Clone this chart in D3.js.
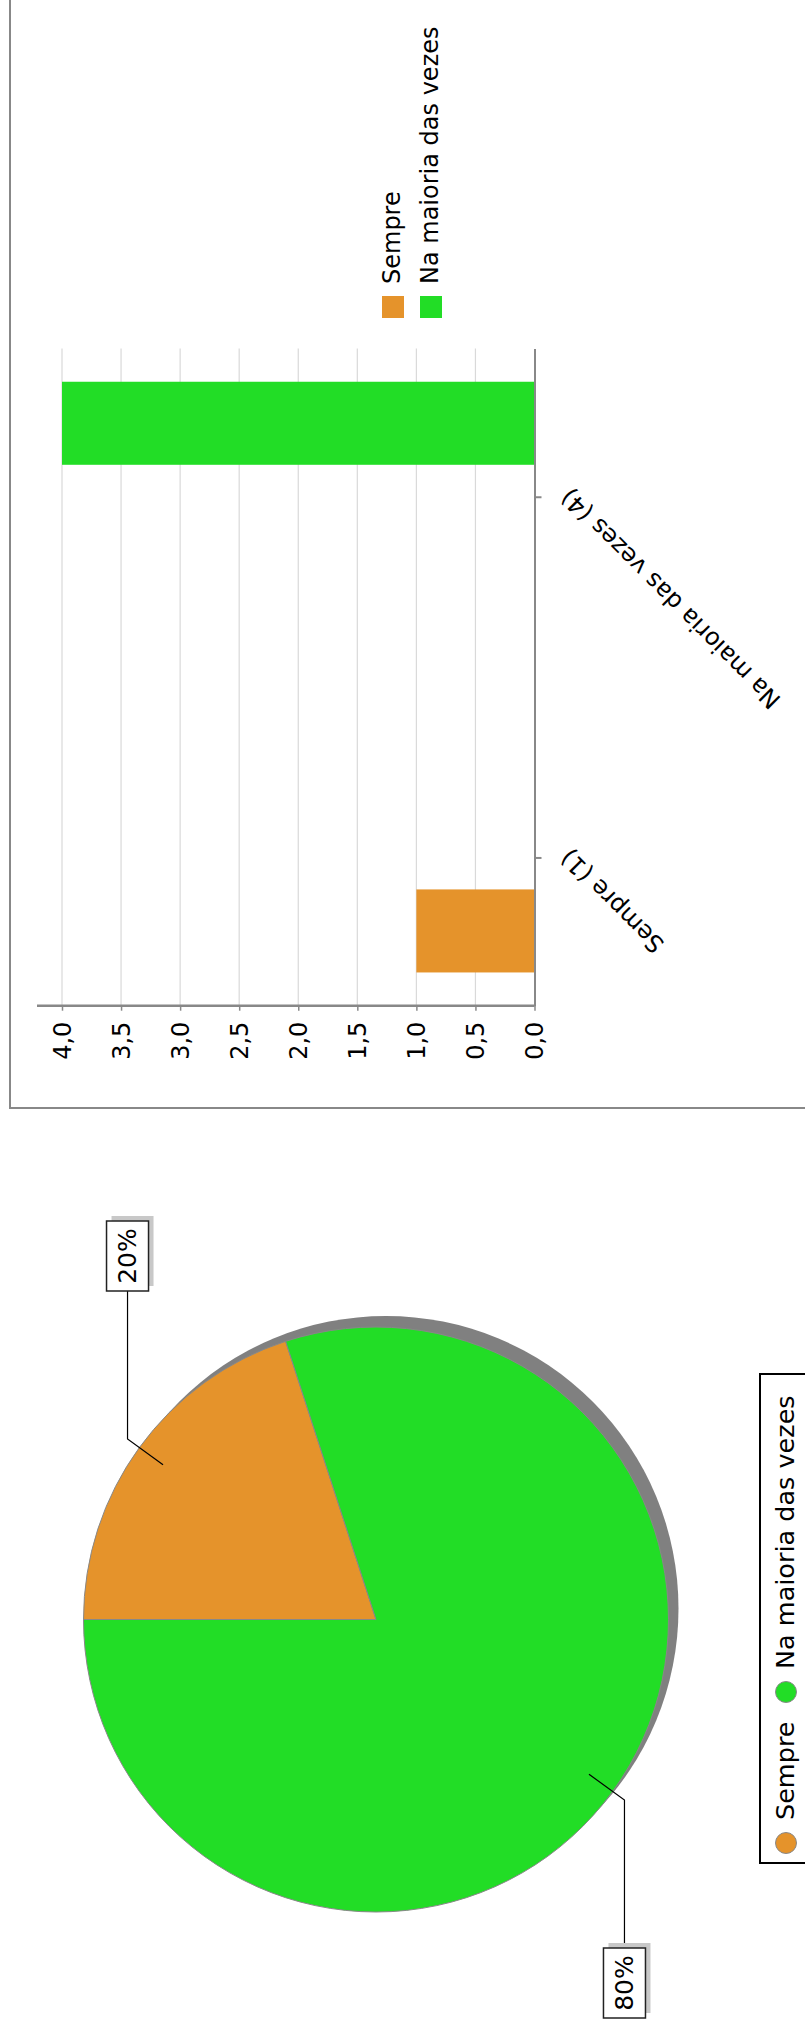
<!DOCTYPE html>
<html>
<head>
<meta charset="utf-8">
<title></title>
<script src="https://cdn.jsdelivr.net/npm/d3@7"></script>
<style>
body{margin:0;background:#fff;}
text{font-family:"DejaVu Sans",sans-serif;fill:#000;}
</style>
</head>
<body>
<script>
// dados
var categorias = ["Sempre (1)", "Na maioria das vezes (4)"];
var series = ["Sempre", "Na maioria das vezes"];
var valoresSempre = [1, 0];
var valoresMaioria = [0, 4];
var ticksValor = [0, 0.5, 1, 1.5, 2, 2.5, 3, 3.5, 4];
var pizzaRotulos = ["Sempre", "Na maioria das vezes"];
var pizzaValores = [1, 4];
var cores = ["#e5932b", "#22dd26"];

var width = 805, height = 2027;
var svg = d3.select("body").append("svg")
    .attr("width", width)
    .attr("height", height);

var locale = d3.formatLocale({decimal: ",", thousands: ".", grouping: [3], currency: ["R$", ""]});
var fmt = locale.format(".1f");
var pct = d3.format(".0%");

// ---------- grafico de barras (girado -90) ----------
svg.append("rect")
    .attr("x", 10).attr("y", -10)
    .attr("width", 820).attr("height", 1118)
    .attr("fill", "none").attr("stroke", "#888").attr("stroke-width", 2);

var top0 = 348.5, base0 = 1005.7;
var xScale = d3.scaleLinear().domain([0, 4]).range([534.5, 62]);
var yScale = d3.scalePoint().domain(categorias).range([base0, top0]).padding(0.411);
var sScale = d3.scaleBand().domain(series).range([115, -115]).paddingInner(0.435);

// grade
svg.append("g").selectAll("line")
    .data(ticksValor.slice(1))
    .enter().append("line")
    .attr("x1", function(d){ return xScale(d); })
    .attr("x2", function(d){ return xScale(d); })
    .attr("y1", top0).attr("y2", base0)
    .attr("stroke", "#d9d9d9").attr("stroke-width", 1.2);

// barras
var barras = [];
series.forEach(function(s, i){
    var vals = i == 0 ? valoresSempre : valoresMaioria;
    categorias.forEach(function(c, j){
        barras.push({serie: s, cat: c, v: vals[j], cor: cores[i]});
    });
});
svg.append("g").selectAll("rect")
    .data(barras.filter(function(d){ return d.v > 0; }))
    .enter().append("rect")
    .attr("x", function(d){ return xScale(d.v); })
    .attr("width", function(d){ return xScale(0) - xScale(d.v); })
    .attr("y", function(d){ return yScale(d.cat) + sScale(d.serie); })
    .attr("height", sScale.bandwidth())
    .attr("fill", function(d){ return d.cor; });

// eixo de valores
svg.append("line")
    .attr("x1", 37).attr("x2", xScale(0))
    .attr("y1", base0).attr("y2", base0)
    .attr("stroke", "#888").attr("stroke-width", 2.5);

var eixoX = svg.append("g")
    .attr("transform", "translate(0," + base0 + ")")
    .call(d3.axisBottom(xScale).tickValues(ticksValor).tickSize(5).tickFormat(fmt));
eixoX.select(".domain").remove();
eixoX.selectAll("line").attr("stroke", "#888").attr("stroke-width", 1.5);
eixoX.selectAll("text")
    .attr("x", -16).attr("y", 0).attr("dy", "0.35em")
    .attr("transform", "rotate(-90)")
    .style("text-anchor", "end")
    .style("font-size", "24px")
    .style("font-family", "DejaVu Sans");

// eixo de categorias
var eixoY = svg.append("g")
    .attr("transform", "translate(" + xScale(0) + ",0)")
    .call(d3.axisRight(yScale).tickSize(7).tickSizeOuter(0));
eixoY.select(".domain").attr("stroke", "#888").attr("stroke-width", 2);
eixoY.selectAll("line").attr("stroke", "#888").attr("stroke-width", 2);
eixoY.selectAll("text")
    .attr("x", 0).attr("y", 0).attr("dy", 0)
    .attr("transform", "translate(36,-10) rotate(-135)")
    .style("text-anchor", "end")
    .style("font-size", "24px")
    .style("font-family", "DejaVu Sans");

// legenda das barras
var leg = svg.append("g").selectAll("g")
    .data(series)
    .enter().append("g")
    .attr("transform", function(d, i){ return "translate(" + (382 + i * 38) + ",0)"; });
leg.append("rect")
    .attr("x", 0).attr("y", 296)
    .attr("width", 22).attr("height", 22)
    .attr("fill", function(d, i){ return cores[i]; });
leg.append("text")
    .attr("transform", "translate(17.5,284) rotate(-90)")
    .style("font-size", "24px")
    .text(function(d){ return d; });

// ---------- pizza ----------
var cx = 376, cy = 1619.5, R = 292.5;
var pie = d3.pie().sort(null).startAngle(-Math.PI / 2).endAngle(1.5 * Math.PI);
var arcs = pie(pizzaValores);
var total = d3.sum(pizzaValores);
var arc = d3.arc().innerRadius(0).outerRadius(R);

var gp = svg.append("g").attr("transform", "translate(" + cx + "," + cy + ")");
gp.append("circle")
    .attr("cx", 10).attr("cy", -11).attr("r", R)
    .attr("fill", "#808080");
gp.selectAll("path.fatia")
    .data(arcs)
    .enter().append("path")
    .attr("class", "fatia")
    .attr("d", arc)
    .attr("fill", function(d, i){ return cores[i]; })
    .attr("stroke", "#888").attr("stroke-width", 1);

// rotulos com linha
arcs.forEach(function(d){
    var a = (d.startAngle + d.endAngle) / 2;
    var p1 = [0.9 * R * Math.sin(a), -0.9 * R * Math.cos(a)];
    var p2 = [1.05 * R * Math.sin(a), -1.05 * R * Math.cos(a)];
    var up = Math.cos(a) > 0;
    var yb = up ? -(R + 36) : (R + 36);
    gp.append("polyline")
        .attr("points", [p1, p2, [p2[0], yb]].map(function(p){ return p.join(","); }).join(" "))
        .attr("fill", "none").attr("stroke", "#000").attr("stroke-width", 1.2);
    var bw = 42, bh = 70;
    var bx = p2[0] - bw / 2, by = up ? yb - bh : yb;
    gp.append("rect")
        .attr("x", bx + 5).attr("y", by - 5)
        .attr("width", bw).attr("height", bh)
        .attr("fill", "#c8c8c8");
    gp.append("rect")
        .attr("x", bx).attr("y", by)
        .attr("width", bw).attr("height", bh)
        .attr("fill", "#fff").attr("stroke", "#222").attr("stroke-width", 1.5);
    gp.append("text")
        .attr("transform", "translate(" + (bx + bw / 2) + "," + (by + bh / 2) + ") rotate(-90)")
        .attr("dy", "0.35em")
        .style("text-anchor", "middle")
        .style("font-size", "25px")
        .text(pct(d.data / total));
});

// legenda da pizza
svg.append("rect")
    .attr("x", 760).attr("y", 1374)
    .attr("width", 60).attr("height", 489)
    .attr("fill", "#fff").attr("stroke", "#000").attr("stroke-width", 2);
var yy = 1843;
pizzaRotulos.forEach(function(r, i){
    svg.append("circle")
        .attr("cx", 786).attr("cy", yy).attr("r", 10.5)
        .attr("fill", cores[i]).attr("stroke", "#888").attr("stroke-width", 1);
    var t = svg.append("text")
        .attr("transform", "translate(794," + (yy - 23) + ") rotate(-90)")
        .style("font-size", "25.5px")
        .text(r);
    yy = yy - 23 - t.node().getComputedTextLength() - 19 - 10.5;
});
</script>
</body>
</html>
